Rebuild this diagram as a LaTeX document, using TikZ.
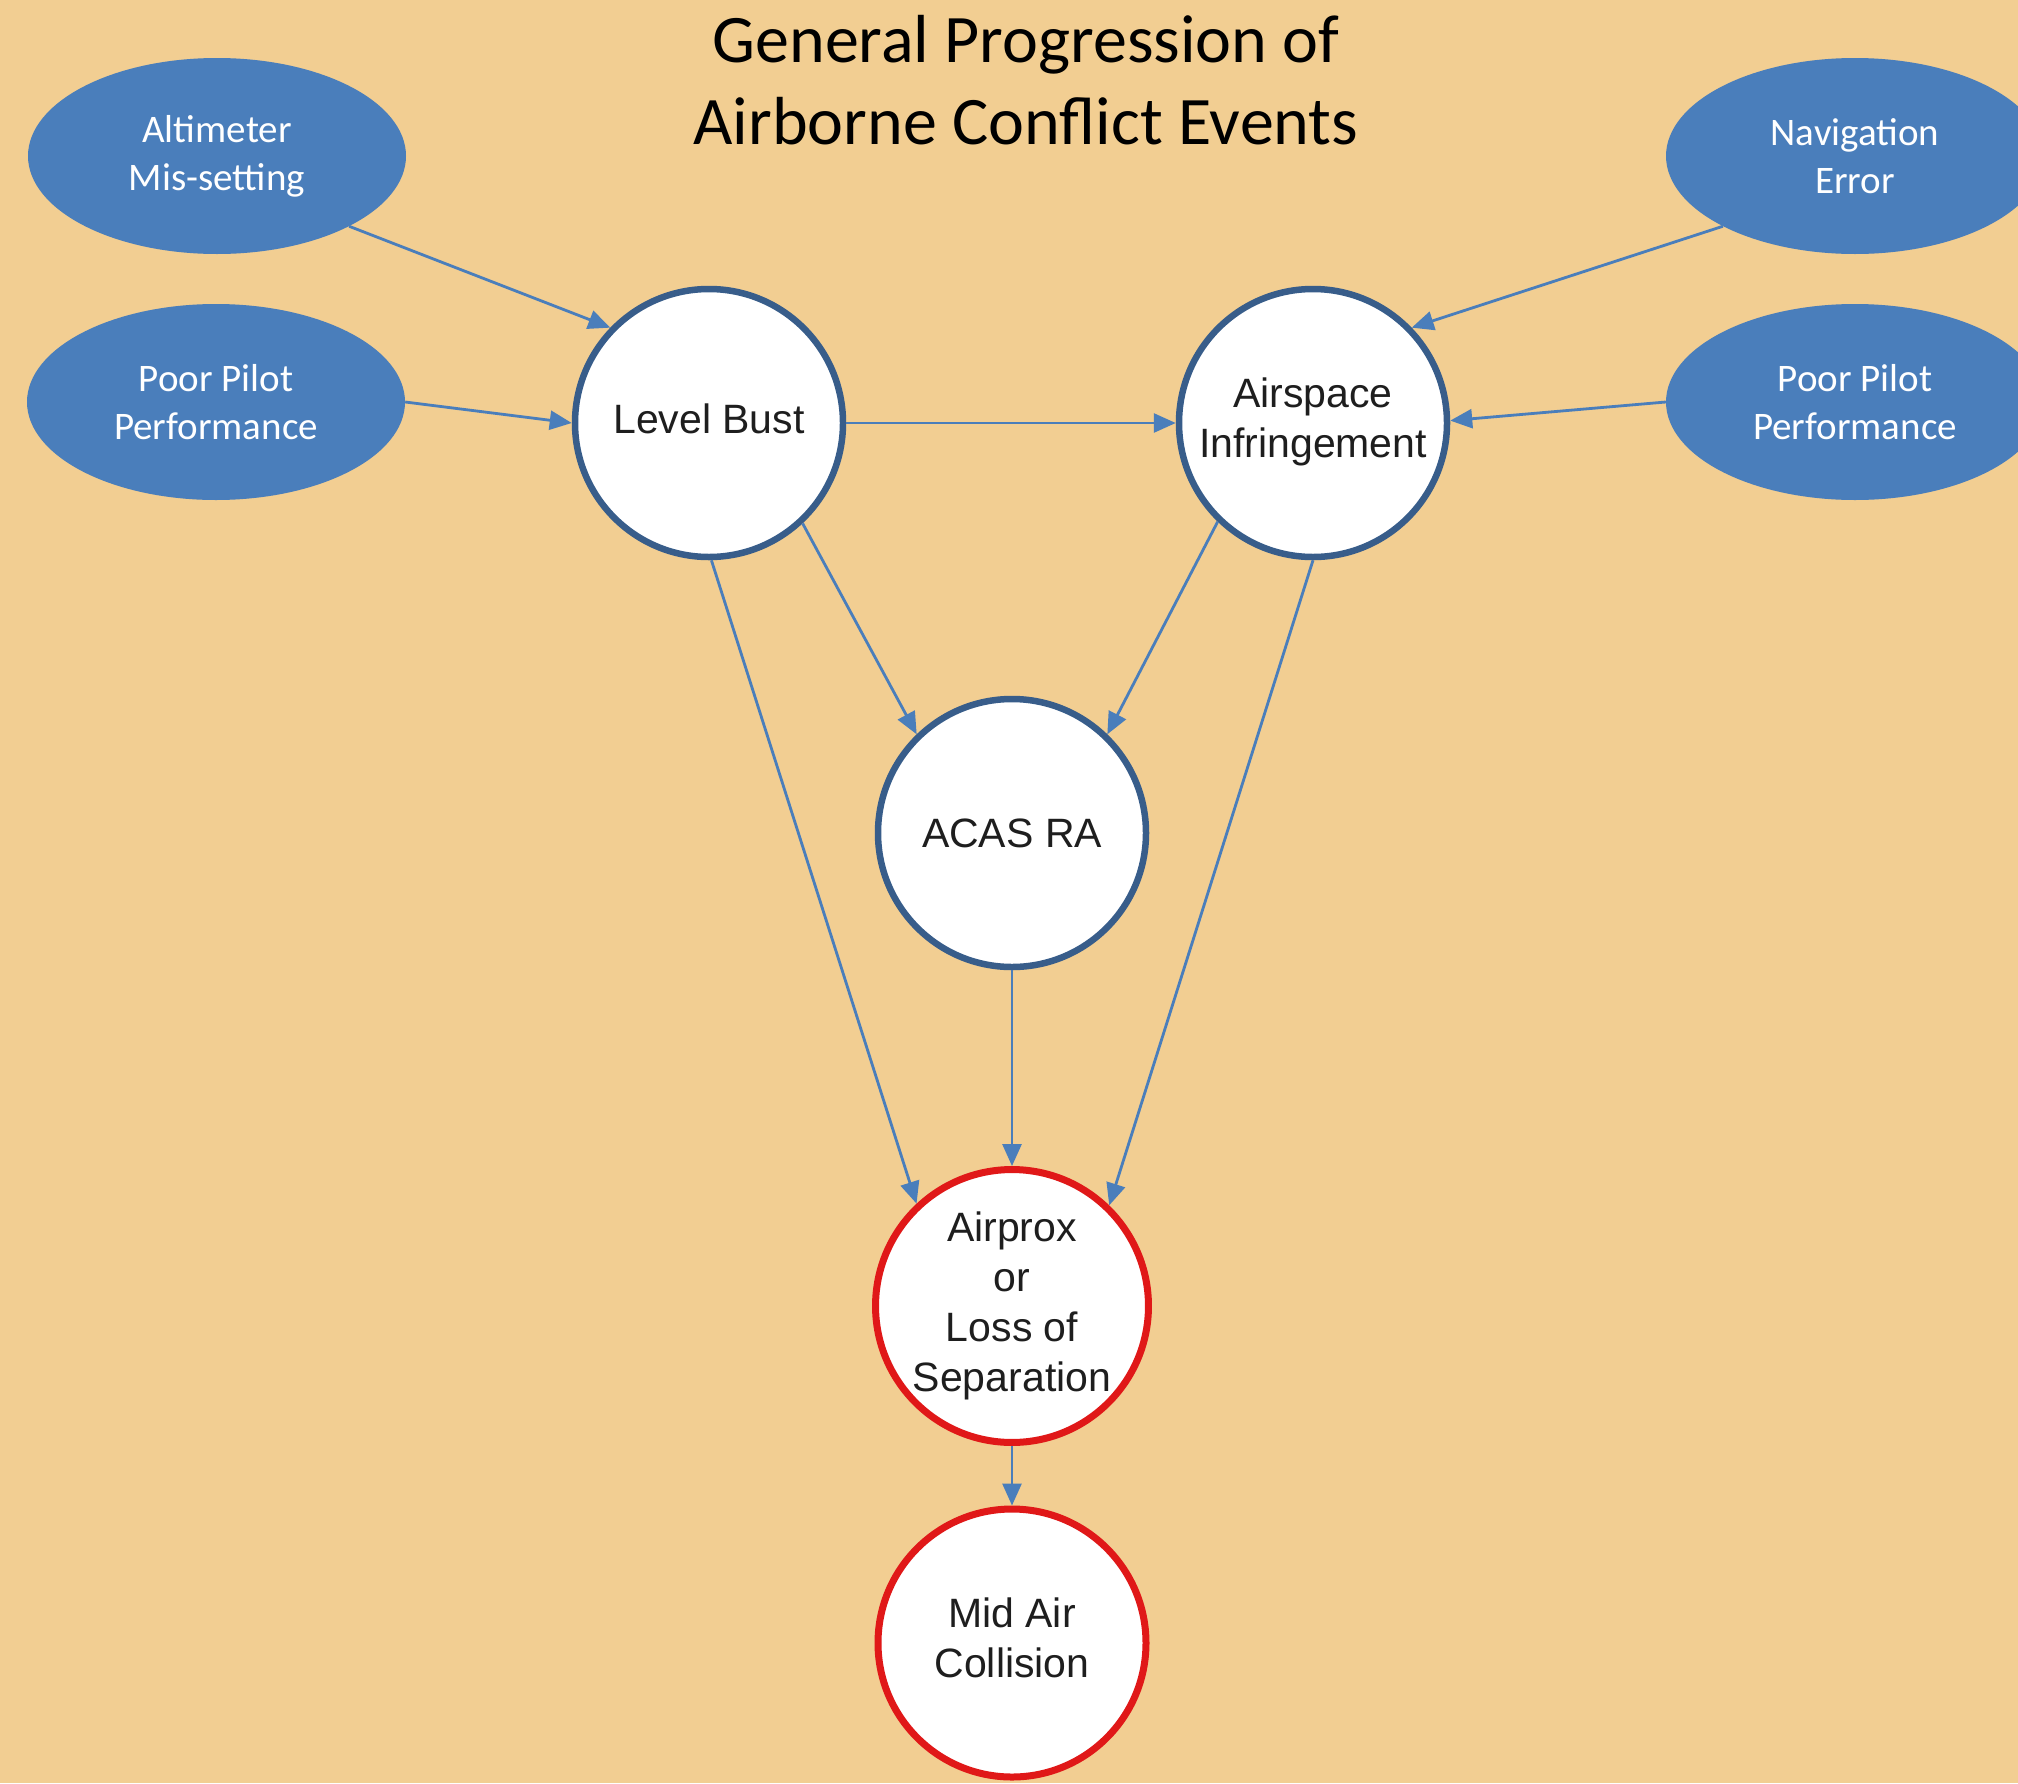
\documentclass[tikz,border=0pt]{standalone}
\usepackage{fontspec}
\setmainfont{Liberation Sans}
\newfontfamily\calibri{Carlito}
\usetikzlibrary{shapes.geometric,arrows.meta}
\definecolor{bg}{HTML}{F2CE92}
\definecolor{ellblue}{HTML}{4A7EBB}
\definecolor{circborder}{HTML}{385D8A}
\definecolor{arrowblue}{HTML}{4A7EBB}
\definecolor{redborder}{HTML}{E01818}
\definecolor{txt}{HTML}{1E1E1E}
\tikzset{
  cause/.style={ellipse, fill=ellblue, draw=none, minimum width=378pt, minimum height=196pt, inner sep=0pt,
    text=white, align=center, font=\calibri\fontsize{39}{48}\selectfont},
  event/.style={circle, fill=white, draw=circborder, line width=6.5pt, minimum size=268pt, inner sep=0pt,
    text=txt, align=center, font=\fontsize{41}{50}\selectfont},
  crit/.style={event, draw=redborder, line width=7pt},
  flow/.style={draw=arrowblue, line width=2.8pt, -{Triangle[length=22pt,width=19pt]}},
  titletext/.style={align=center, text=black, font=\calibri\fontsize{68}{82}\selectfont}
}
\begin{document}
\begin{tikzpicture}[x=1pt,y=-1pt]
\fill[bg] (0,0) rectangle (2018,1783);
\useasboundingbox (0,0) rectangle (2018,1783);

\node[titletext] (title) at (1026,80) {General Progression of\\Airborne Conflict Events};

\node[cause] (alt) at (217,156) {Altimeter\\Mis-setting};
\node[cause] (ppl) at (216,402) {Poor Pilot\\Performance};
\node[cause] (nav) at (1855,156) {Navigation\\Error};
\node[cause] (ppr) at (1855,402) {Poor Pilot\\Performance};

\node[event] (lb) at (709,423) {\raisebox{8pt}{Level Bust}};
\node[event] (as) at (1313,423) {Airspace\\Infringement\\[-40pt]\mbox{}};
\node[event] (acas) at (1012,833) {ACAS RA};
\node[crit] (apx) at (1012,1306) {Airprox\\or\\Loss of\\Separation\\[-42pt]\mbox{}};
\node[crit] (mac) at (1012,1643) {Mid Air\\Collision\\[-40pt]\mbox{}};

\draw[flow] (alt.-28) -- (lb.136);
\draw[flow] (ppl.east) -- (lb.180);
\draw[flow] (lb.east) -- (as.west);
\draw[flow] (nav.208) -- (as.44);
\draw[flow] (ppr.west) -- (as.1);
\draw[flow] (lb.-47) -- (acas.134);
\draw[flow] (as.226) -- (acas.46);
\draw[flow] (lb.-89) -- (apx.133);
\draw[flow] (as.-90) -- (apx.46);
\draw[flow] (acas.south) -- (apx.north);
\draw[flow] (apx.south) -- (mac.north);
\end{tikzpicture}
\end{document}
